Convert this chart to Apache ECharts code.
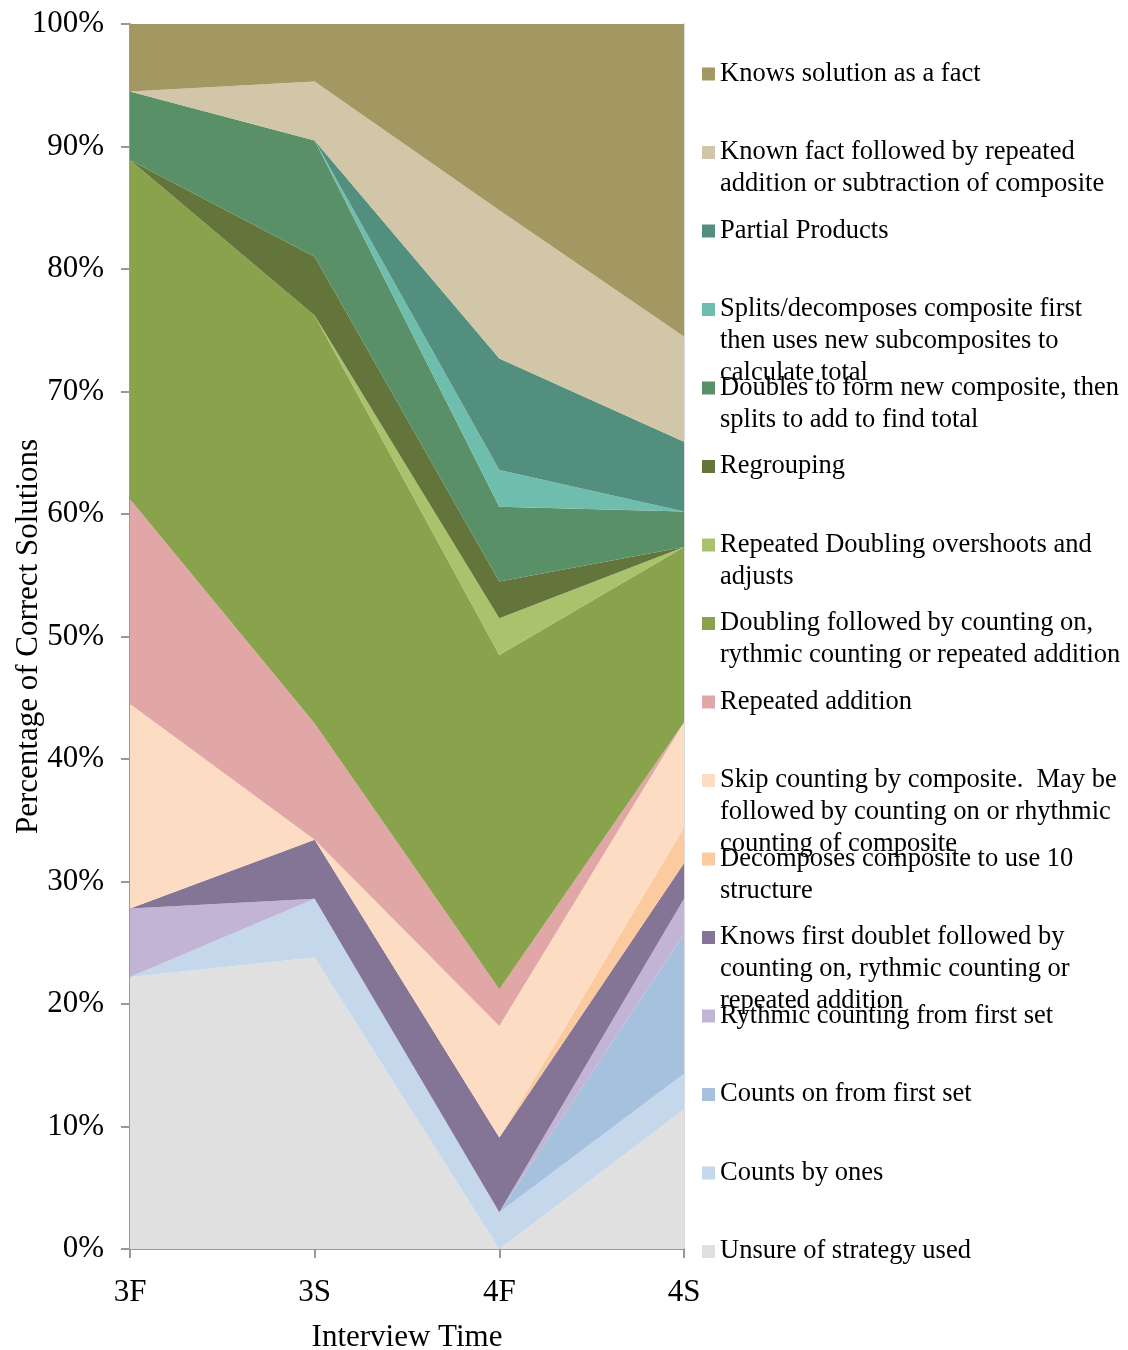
<!DOCTYPE html>
<html lang="en">
<head>
<meta charset="UTF-8">
<title>Strategies used for correct solutions</title>
<script src="https://cdn.jsdelivr.net/npm/echarts@6/dist/echarts.min.js"></script>
<style>
    html, body { margin:0; padding:0; background:#fff; }
    #chart { width:1128px; height:1350px; }
</style>
</head>
<body>
<div id="chart"></div>
<script>
// interview times (x categories)
var times = ['3F', '3S', '4F', '4S'];

// percentage of correct solutions per strategy, bottom of the stack first
var unsure            = [22.2, 23.8, 0,    11.4];
var countsByOnes      = [0,    4.8,  3.0,  2.9];
var countsOn          = [0,    0,    0,    11.4];
var rythmicCounting   = [5.6,  0,    0,    2.9];
var firstDoublet      = [0,    4.8,  6.1,  2.9];
var decompose10       = [0,    0,    0,    2.9];
var skipCounting      = [16.7, 0,    9.1,  8.6];
var repeatedAddition  = [16.7, 9.5,  3.0,  0];
var doublingCountOn   = [27.7, 33.3, 27.3, 14.3];
var repeatedDoubling  = [0,    0,    3.0,  0];
var regrouping        = [0,    4.8,  3.0,  0];
var doublesSplits     = [5.6,  9.5,  6.1,  2.9];
var splitsFirst       = [0,    0,    3.0,  0];
var partialProducts   = [0,    0,    9.1,  5.7];
var knownFactRepeated = [0,    4.8,  12.1, 8.6];
var knowsFact         = [5.6,  4.8,  15.2, 25.7];

var strategies = [
    ['Unsure of strategy used', unsure, '#E0E0E0'],
    ['Counts by ones', countsByOnes, '#C4D7EB'],
    ['Counts on from first set', countsOn, '#A6C1DE'],
    ['Rythmic counting from first set', rythmicCounting, '#C2B4D4'],
    ['Knows first doublet followed by\ncounting on, rythmic counting or\nrepeated addition', firstDoublet, '#847496'],
    ['Decomposes composite to use 10\nstructure', decompose10, '#FBCB9F'],
    ['Skip counting by composite.  May be\nfollowed by counting on or rhythmic\ncounting of composite', skipCounting, '#FCDCC2'],
    ['Repeated addition', repeatedAddition, '#E1A6A6'],
    ['Doubling followed by counting on,\nrythmic counting or repeated addition', doublingCountOn, '#89A24C'],
    ['Repeated Doubling overshoots and\nadjusts', repeatedDoubling, '#A9C26C'],
    ['Regrouping', regrouping, '#63753A'],
    ['Doubles to form new composite, then\nsplits to add to find total', doublesSplits, '#599068'],
    ['Splits/decomposes composite first\nthen uses new subcomposites to\ncalculate total', splitsFirst, '#6FBDAD'],
    ['Partial Products', partialProducts, '#538F7E'],
    ['Known fact followed by repeated\naddition or subtraction of composite', knownFactRepeated, '#D1C7A8'],
    ['Knows solution as a fact', knowsFact, '#A39862']
];

var serif = 'Liberation Serif, Times New Roman, serif';
var lineH = 32;

var series = [];
var legends = [];
strategies.forEach(function (s, i) {
    var key = s[0].replace(/\n/g, ' ');
    series.push({
        name: key,
        type: 'line',
        stack: 'total',
        data: s[1],
        symbol: 'none',
        color: s[2],
        lineStyle: { width: 0 },
        areaStyle: { color: s[2], opacity: 1 },
        emphasis: { disabled: true },
        z: 2
    });
    // legend: one box per item, first line of text level with the marker
    var lines = s[0].split('\n');
    var padded = lines.slice();
    for (var k = 1; k < lines.length; k++) padded.unshift('');
    var h = padded.length * lineH;
    var row = strategies.length - 1 - i;
    var center = 74 + row * 78.5;
    legends.push({
        data: [key],
        orient: 'vertical',
        left: 697,
        top: center - h / 2 - 5,
        padding: 5,
        icon: 'rect',
        itemWidth: 13,
        itemHeight: 13,
        selectedMode: false,
        formatter: function () { return padded.join('\n'); },
        textStyle: { fontFamily: serif, fontSize: 26.5, lineHeight: lineH, color: '#000' }
    });
});

var chart = echarts.init(document.getElementById('chart'));
chart.setOption({
    backgroundColor: '#fff',
    animation: false,
    grid: { left: 130, right: 444, top: 24, bottom: 101, outerBoundsMode: 'none' },
    legend: legends,
    xAxis: {
        type: 'category',
        data: times,
        boundaryGap: false,
        name: 'Interview Time',
        nameLocation: 'middle',
        nameGap: 73,
        nameMoveOverlap: false,
        nameTextStyle: { fontFamily: serif, fontSize: 31, color: '#000' },
        axisLine: { show: true, lineStyle: { color: '#999', width: 2 } },
        axisTick: { show: true, inside: false, length: 9, lineStyle: { color: '#999', width: 2 } },
        axisLabel: { fontFamily: serif, fontSize: 31, color: '#000', margin: 28 },
        splitLine: { show: false }
    },
    yAxis: [{
        type: 'value',
        min: 0,
        max: 100,
        interval: 10,
        name: 'Percentage of Correct Solutions',
        nameLocation: 'middle',
        nameGap: 86,
        nameMoveOverlap: false,
        nameTextStyle: { fontFamily: serif, fontSize: 31, color: '#000' },
        axisLine: { show: true, lineStyle: { color: '#999', width: 2 } },
        axisTick: { show: true, inside: false, length: 9, lineStyle: { color: '#999', width: 2 } },
        axisLabel: { fontFamily: serif, fontSize: 31, color: '#000', margin: 26, formatter: '{value}%' },
        splitLine: { show: false }
    }, {
        type: 'value',
        position: 'right',
        min: 0,
        max: 100,
        interval: 10,
        axisLine: { show: true, lineStyle: { color: '#dcdcdc', width: 2 } },
        axisTick: { show: false },
        axisLabel: { show: false },
        splitLine: { show: false }
    }],
    series: series
});
</script>
</body>
</html>
